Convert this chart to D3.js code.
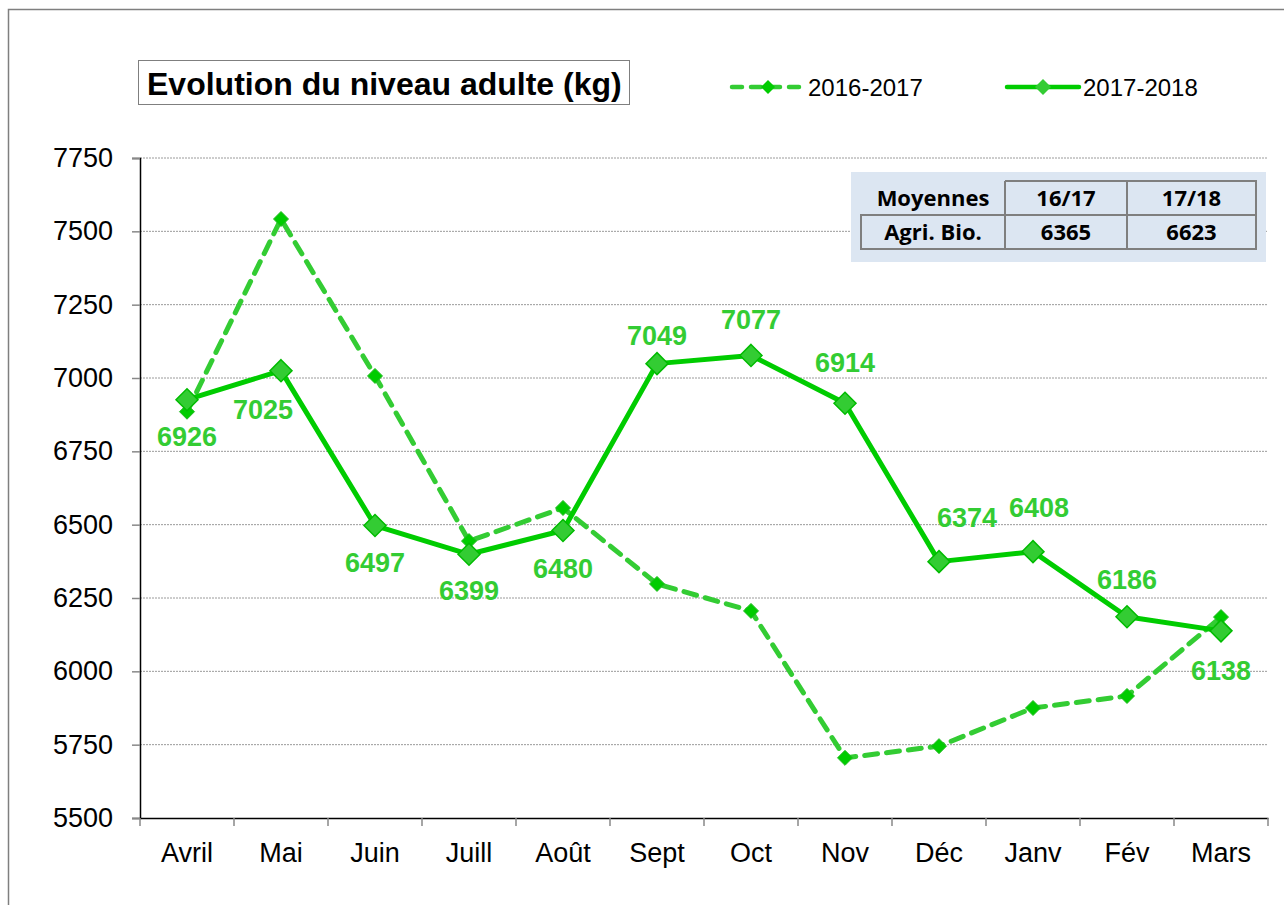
<!DOCTYPE html>
<html>
<head>
<meta charset="utf-8">
<script src="https://cdn.jsdelivr.net/npm/d3@7"></script>
<style>
  body { margin:0; background:#fff; }
  svg { font-family: "Liberation Sans", Arial, sans-serif; }
</style>
</head>
<body>
<div id="content"></div>
<script>
// data
const months = ["Avril","Mai","Juin","Juill","Août","Sept","Oct","Nov","Déc","Janv","Fév","Mars"];
const serie1617 = [6885, 7542, 7007, 6444, 6557, 6298, 6206, 5705, 5745, 5875, 5916, 6185];
const serie1718 = [6926, 7025, 6497, 6399, 6480, 7049, 7077, 6914, 6374, 6408, 6186, 6138];
const yTicks = [5500, 5750, 6000, 6250, 6500, 6750, 7000, 7250, 7500, 7750];
const tableHead = ["Moyennes", "16/17", "17/18"];
const tableRow = ["Agri. Bio.", "6365", "6623"];
const legendNames = ["2016-2017", "2017-2018"];

// label offsets (px) of the 17/18 value labels, as placed in the original
const labelShift = [[0,37],[-18,39],[0,37],[0,36],[0,38],[0,-28],[0,-36],[0,-41],[28,-44],[6,-44],[0,-37],[0,39]];

const W = 1284, H = 905;
const margin = {top:158, right:16, bottom:87, left:140};

const svg = d3.select("#content").append("svg")
  .attr("width", W).attr("height", H);

// outer frame
svg.append("rect")
  .attr("x", 8.5).attr("y", 9.5)
  .attr("width", W + 20).attr("height", H + 20)
  .attr("fill", "none").attr("stroke", "#7f7f7f").attr("stroke-width", 1.5);

const x = d3.scaleBand().domain(months)
  .range([margin.left, W - margin.right]);
const y = d3.scaleLinear().domain([5500, 7750])
  .range([H - margin.bottom, margin.top]);

// grid
svg.append("g").selectAll("line")
  .data(yTicks.slice(1))
  .enter().append("line")
  .attr("x1", margin.left).attr("x2", W - margin.right)
  .attr("y1", d => y(d)).attr("y2", d => y(d))
  .attr("stroke", "#9a9a9a").attr("stroke-width", 1)
  .attr("stroke-dasharray", "2,1");

// y axis
const yAxis = svg.append("g")
  .attr("transform", `translate(${margin.left},0)`)
  .call(d3.axisLeft(y).tickValues(yTicks).tickSize(8).tickPadding(19).tickFormat(d3.format("d")));
yAxis.attr("font-size", null).attr("font-family", null);
yAxis.select(".domain").attr("stroke", "#000").attr("stroke-width", 1.5);
yAxis.selectAll(".tick line").attr("stroke", "#888").attr("stroke-width", 1.5);
yAxis.selectAll("text").attr("font-size", 27).attr("fill", "#000");

// x axis
const xAxis = svg.append("g")
  .attr("transform", `translate(0,${H - margin.bottom})`)
  .call(d3.axisBottom(x).tickSize(0).tickPadding(25));
xAxis.attr("font-size", null).attr("font-family", null);
xAxis.select(".domain").attr("stroke", "#000").attr("stroke-width", 1.5);
xAxis.selectAll("text").attr("font-size", 27).attr("fill", "#000");
// category separators
svg.append("g").selectAll("line")
  .data(months.map(m => x(m)).concat([x(months[months.length - 1]) + x.bandwidth()]))
  .enter().append("line")
  .attr("x1", d => d).attr("x2", d => d)
  .attr("y1", H - margin.bottom).attr("y2", H - margin.bottom + 8)
  .attr("stroke", "#888").attr("stroke-width", 1.5);

const cx = m => x(m) + x.bandwidth() / 2;
const line = d3.line().x(d => cx(d.m)).y(d => y(d.v));

const d1617 = months.map((m, i) => ({m, v: serie1617[i]}));
const d1718 = months.map((m, i) => ({m, v: serie1718[i]}));

const diamond = (r) => `M0,${-r}L${r},0L0,${r}L${-r},0Z`;

// 2016-2017 dashed
svg.append("path").datum(d1617)
  .attr("d", line).attr("fill", "none")
  .attr("stroke", "#33cc33").attr("stroke-width", 5)
  .attr("stroke-dasharray", "13,9").attr("stroke-linecap", "round");
svg.append("g").selectAll("path").data(d1617).enter().append("path")
  .attr("transform", d => `translate(${cx(d.m)},${y(d.v)})`)
  .attr("d", diamond(7.5)).attr("fill", "#00cc00").attr("stroke", "#22bb22").attr("stroke-width", 1);

// 2017-2018 solid
svg.append("path").datum(d1718)
  .attr("d", line).attr("fill", "none")
  .attr("stroke", "#00cc00").attr("stroke-width", 5).attr("stroke-linejoin", "round");
svg.append("g").selectAll("path").data(d1718).enter().append("path")
  .attr("transform", d => `translate(${cx(d.m)},${y(d.v)})`)
  .attr("d", diamond(11)).attr("fill", "#33cc33").attr("stroke", "#00bb00").attr("stroke-width", 1.5);

// labels
svg.append("g").selectAll("text").data(d1718).enter().append("text")
  .attr("x", (d, i) => cx(d.m) + labelShift[i][0])
  .attr("y", (d, i) => y(d.v) + labelShift[i][1])
  .attr("dy", "0.36em")
  .attr("text-anchor", "middle")
  .attr("font-size", 27).attr("font-weight", "bold").attr("fill", "#33cc33")
  .text(d => d.v);

// title
svg.append("rect").attr("x", 138.5).attr("y", 60.5).attr("width", 491).attr("height", 44)
  .attr("fill", "#fff").attr("stroke", "#7f7f7f").attr("stroke-width", 1);
svg.append("text").attr("x", 147).attr("y", 95)
  .attr("font-size", 32).attr("font-weight", "bold").attr("fill", "#000")
  .text("Evolution du niveau adulte (kg)");

// legend
const leg = svg.append("g").selectAll("g").data(legendNames).enter().append("g")
  .attr("transform", (d, i) => `translate(${732 + i * 275},87)`);
leg.append("line").attr("x1", 0).attr("x2", 72).attr("y1", 0).attr("y2", 0)
  .attr("stroke", (d, i) => i === 0 ? "#33cc33" : "#00cc00")
  .attr("stroke-width", 4.5).attr("stroke-linecap", "round")
  .attr("stroke-dasharray", (d, i) => i === 0 ? "10,9" : null);
leg.append("path").attr("transform", "translate(36,0)")
  .attr("d", (d, i) => diamond(i === 0 ? 7 : 8))
  .attr("fill", (d, i) => i === 0 ? "#00cc00" : "#33cc33");
leg.append("text").attr("x", 76).attr("y", 9)
  .attr("font-size", 24).attr("fill", "#000").text(d => d);

// averages table
const tb = svg.append("g");
tb.append("rect").attr("x", 851).attr("y", 172).attr("width", 415).attr("height", 90)
  .attr("fill", "#dce6f2");
const colX = [861, 1005, 1127, 1256];
const rowY = [181, 215, 249];
const bc = "#7f7f7f";
// borders
tb.append("path").attr("fill", "none").attr("stroke", bc).attr("stroke-width", 2)
  .attr("d", `M${colX[1]},${rowY[0]}H${colX[3]}V${rowY[2]}H${colX[0]}V${rowY[1]}H${colX[3]}` +
             `M${colX[1]},${rowY[0]}V${rowY[2]}M${colX[2]},${rowY[0]}V${rowY[2]}`);
[tableHead, tableRow].forEach((row, r) => {
  tb.append("g").selectAll("text").data(row).enter().append("text")
    .attr("x", (d, i) => (colX[i] + colX[i + 1]) / 2)
    .attr("y", (rowY[r] + rowY[r + 1]) / 2 + 8)
    .attr("text-anchor", "middle")
    .attr("font-family", "'Open Sans', sans-serif")
    .attr("font-size", 22).attr("font-weight", "bold").attr("fill", "#000")
    .text(d => d);
});
</script>
</body>
</html>
